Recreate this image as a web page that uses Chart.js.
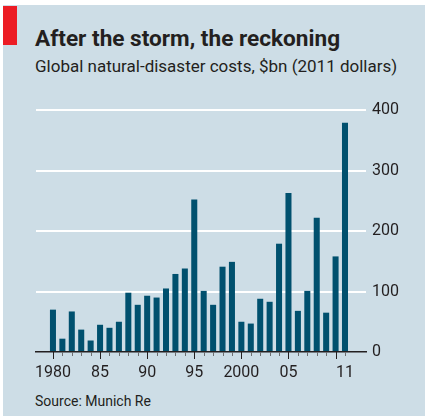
<!DOCTYPE html>
<html>
<head>
<meta charset="utf-8">
<script src="https://cdn.jsdelivr.net/npm/chart.js@4.4.1/dist/chart.umd.min.js"></script>
<style>
  body { margin: 0; background: #ffffff; }
  #wrap { position: relative; width: 425px; height: 416px; overflow: hidden; font-family: Roboto, sans-serif; color: #231f20; }
  #panel { position: absolute; left: 3px; top: 5px; right: 0; bottom: 0; background: #cddde6; }
  #redbox { position: absolute; left: 3px; top: 6px; width: 14px; height: 39px; background: #ec1c24; }
  .txt { position: absolute; left: 35px; white-space: nowrap; }
  #title { top: 28px; font-size: 22.6px; line-height: 22.6px; font-weight: bold; }
  #subtitle { top: 58px; font-size: 17px; line-height: 17px; }
  #source { top: 394px; font-size: 14px; line-height: 14px; }
  canvas { position: absolute; left: 0; top: 0; }
</style>
</head>
<body>
<div id="wrap">
  <div id="panel"></div>
  <div id="redbox"></div>
  <div class="txt" id="title">After the storm, the reckoning</div>
  <div class="txt" id="subtitle">Global natural-disaster costs, $bn (2011 dollars)</div>
  <div class="txt" id="source">Source: Munich Re</div>
  <canvas id="grafico" width="425" height="416"></canvas>
</div>
<script>
// datos
const anios = [1980, 1981, 1982, 1983, 1984, 1985, 1986, 1987, 1988, 1989,
               1990, 1991, 1992, 1993, 1994, 1995, 1996, 1997, 1998, 1999,
               2000, 2001, 2002, 2003, 2004, 2005, 2006, 2007, 2008, 2009,
               2010, 2011];
const costos = [70, 22, 67, 37, 19, 45, 40, 50, 98, 78,
                93, 90, 105, 129, 138, 252, 101, 78, 141, 149,
                50, 47, 88, 83, 179, 263, 68, 101, 222, 65,
                158, 379];
const aniosEtiqueta = [1980, 1985, 1990, 1995, 2000, 2005, 2011];
const textosEtiqueta = ['1980', '85', '90', '95', '2000', '05', '11'];
const ticksY = [0, 100, 200, 300, 400];

const colorTexto = '#231f20';

// marcas bajo el eje x: largas cada 5 anios
const marcasAnio = {
  id: 'marcasAnio',
  afterDraw(chart) {
    const x = chart.scales.x;
    const ctx = chart.ctx;
    const y0 = chart.chartArea.bottom;
    ctx.save();
    ctx.lineWidth = 1;
    anios.forEach(a => {
      const px = Math.round(x.getPixelForValue(a)) + 0.5;
      const largo = a % 5 == 0;
      ctx.strokeStyle = largo ? colorTexto : '#6d6e70';
      ctx.beginPath();
      ctx.moveTo(px, y0);
      ctx.lineTo(px, y0 + (largo ? 7 : 4));
      ctx.stroke();
    });
    ctx.restore();
  }
};

const ctx1 = document.getElementById('grafico').getContext('2d');
const grafico = new Chart(ctx1, {
  type: 'bar',
  data: {
    datasets: [{
      label: 'Costs',
      data: anios.map((a, i) => ({ x: a, y: costos[i] })),
      backgroundColor: '#00506e',
      borderWidth: 0,
      barPercentage: 0.64,
      categoryPercentage: 1
    }]
  },
  options: {
    responsive: false,
    animation: false,
    layout: { padding: { left: 36, top: 110, right: 0, bottom: 34 } },
    plugins: {
      legend: { display: false },
      tooltip: { enabled: false }
    },
    scales: {
      x: {
        type: 'linear',
        offset: false,
        min: 1978.2,
        max: 2013.23,
        afterBuildTicks: scale => { scale.ticks = anios.map(a => ({ value: a })); },
        afterFit: scale => { scale.height = 30; },
        grid: { display: false, drawTicks: false, offset: false },
        border: { display: true, color: colorTexto, width: 1.5 },
        ticks: {
          autoSkip: false,
          maxRotation: 0,
          padding: 11,
          color: colorTexto,
          font: { family: 'Roboto', size: 16 },
          callback: v => {
            const i = aniosEtiqueta.indexOf(v);
            return i >= 0 ? textosEtiqueta[i] : '';
          }
        }
      },
      y: {
        position: 'right',
        min: 0,
        max: 400,
        afterBuildTicks: scale => { scale.ticks = ticksY.map(v => ({ value: v })); },
        afterFit: scale => { scale.width = 59; },
        grid: {
          drawTicks: false,
          lineWidth: 2,
          color: c => c.tick && c.tick.value == 0 ? 'rgba(0,0,0,0)' : '#ffffff'
        },
        border: { display: false },
        ticks: {
          padding: 6,
          color: colorTexto,
          font: { family: 'Roboto', size: 16 }
        }
      }
    }
  },
  plugins: [marcasAnio]
});
</script>
</body>
</html>
